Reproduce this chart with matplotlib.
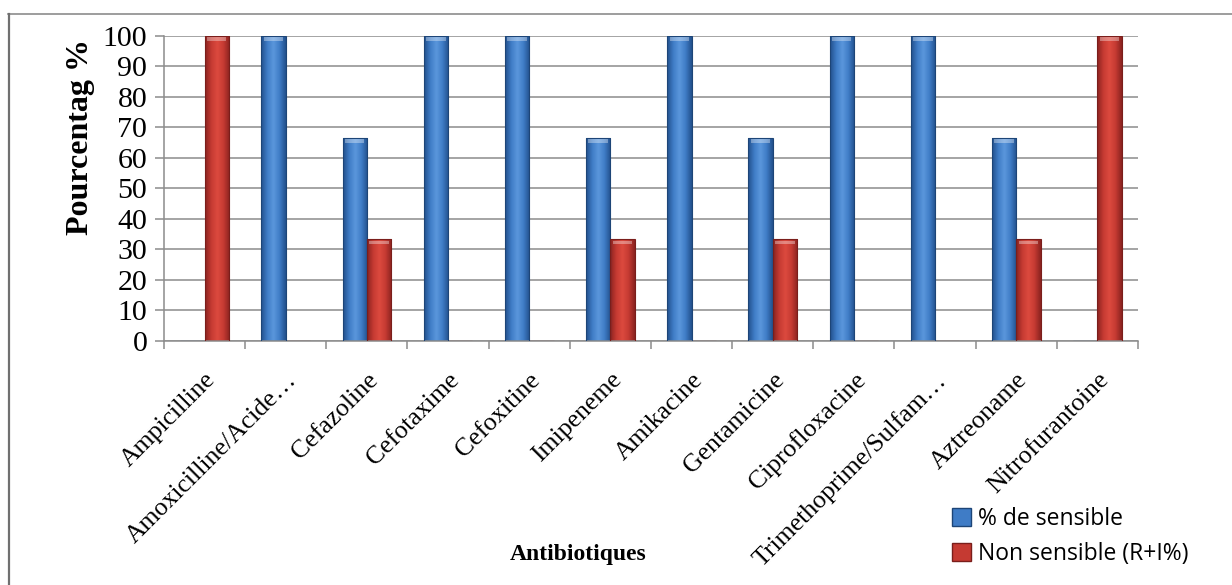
import numpy as np
import matplotlib
matplotlib.use("Agg")
import matplotlib.pyplot as plt
from matplotlib.colors import LinearSegmentedColormap
from matplotlib.lines import Line2D
from matplotlib.transforms import ScaledTranslation

# antibiogram results, percent of isolates
antibiotiques = ["Ampicilline", "Amoxicilline/Acide…", "Cefazoline", "Cefotaxime",
                 "Cefoxitine", "Imipeneme", "Amikacine", "Gentamicine",
                 "Ciprofloxacine", "Trimethoprime/Sulfam…", "Aztreoname",
                 "Nitrofurantoine"]
sensible = [0, 100, 66.67, 100, 100, 66.67, 100, 66.67, 100, 100, 66.67, 0]
non_sensible = [100, 0, 33.33, 0, 0, 33.33, 0, 33.33, 0, 0, 33.33, 100]
yticks = list(range(0, 101, 10))

blue_cmap = LinearSegmentedColormap.from_list(
    "blue_cyl", ["#22508c", "#3f7cc6", "#5b97dc", "#3f7cc6", "#22508c"])
red_cmap = LinearSegmentedColormap.from_list(
    "red_cyl", ["#8a2320", "#c53a32", "#dc4a3f", "#c53a32", "#8a2320"])

fig = plt.figure(figsize=(12.32, 5.85), dpi=100)
ax = fig.add_axes([0.1331, 0.4171, 0.7906, 0.5214])

x = np.arange(len(antibiotiques))
w = 0.3


def cylinder_bars(xpos, vals, cmap, edge):
    bars = ax.bar(xpos, vals, w, color="none", edgecolor=edge, linewidth=0.8, zorder=3)
    grad = np.linspace(0, 1, 64).reshape(1, -1)
    for b in bars:
        h = b.get_height()
        if h <= 0:
            continue
        x0 = b.get_x()
        im = ax.imshow(grad, cmap=cmap, aspect="auto", zorder=2.5,
                       extent=(x0, x0 + b.get_width(), 0, h), interpolation="bicubic")
        im.set_clip_path(b)
        # lighter rim at the top of the cylinder
        ax.bar(b.get_x() + b.get_width() / 2, 1.2, b.get_width() * 0.8, bottom=h - 1.6,
               color="white", alpha=0.35, linewidth=0, zorder=4)
    return bars


cylinder_bars(x - w / 2, sensible, blue_cmap, "#1d4577")
cylinder_bars(x + w / 2, non_sensible, red_cmap, "#7a1e1b")

ax.set_xlim(-0.5, len(antibiotiques) - 0.5)
ax.set_ylim(0, 100)
ax.set_yticks(yticks)
ax.set_yticklabels([str(t) for t in yticks], fontsize=21.5, family="Liberation Serif")
ax.yaxis.grid(True, color="#8c8c8c", linewidth=1.1, zorder=0)
ax.set_axisbelow(True)

# category boundary ticks under the axis
ax.set_xticks(np.arange(-0.5, len(antibiotiques), 1.0), minor=False)
ax.set_xticklabels([])
ax.set_xticks(x, minor=True)
labels = ax.set_xticklabels(antibiotiques, minor=True, rotation=45, ha="right",
                            rotation_mode="anchor", fontsize=18.5,
                            family="Liberation Serif")
shift = ScaledTranslation(-4 / 72, 0, fig.dpi_scale_trans)
for lab in labels:
    lab.set_transform(lab.get_transform() + shift)
ax.tick_params(axis="x", which="minor", length=0, pad=20)
ax.tick_params(axis="x", which="major", length=6, color="#8c8c8c", width=1.1)
ax.tick_params(axis="y", length=6.5, color="#8c8c8c", width=1.1, pad=5.5)

for s in ["top", "right"]:
    ax.spines[s].set_visible(False)
for s in ["left", "bottom"]:
    ax.spines[s].set_color("#8c8c8c")
    ax.spines[s].set_linewidth(1.1)

fig.text(0.065, 0.766, "Pourcentag %", rotation=90, ha="center", va="center",
         fontsize=23, fontweight="bold", family="Liberation Serif")
fig.text(0.469, 0.0513, "Antibiotiques", ha="center", va="center",
         fontsize=17, fontweight="bold", family="Liberation Serif")

handles = [plt.Rectangle((0, 0), 1, 1, facecolor="#3f7cc6", edgecolor="#1d4577"),
           plt.Rectangle((0, 0), 1, 1, facecolor="#c53a32", edgecolor="#7a1e1b")]
fig.legend(handles, ["% de sensible", "Non sensible (R+I%)"], loc="center left",
           bbox_to_anchor=(952 / 1232, 1 - 536.5 / 585), frameon=False,
           prop={"family": "Open Sans", "size": 16.5}, handlelength=0.83,
           handleheight=0.83, handletextpad=0.3, labelspacing=0.45,
           borderpad=0, borderaxespad=0)

# outer chart frame (top and left edges)
fig.add_artist(Line2D([8 / 1232, 1.0], [1 - 14 / 585, 1 - 14 / 585],
                      transform=fig.transFigure, color="#8c8c8c", linewidth=1.2))
fig.add_artist(Line2D([9 / 1232, 9 / 1232], [0, 1 - 14 / 585],
                      transform=fig.transFigure, color="#707070", linewidth=1.6))

fig.savefig("out.png", dpi=100)
